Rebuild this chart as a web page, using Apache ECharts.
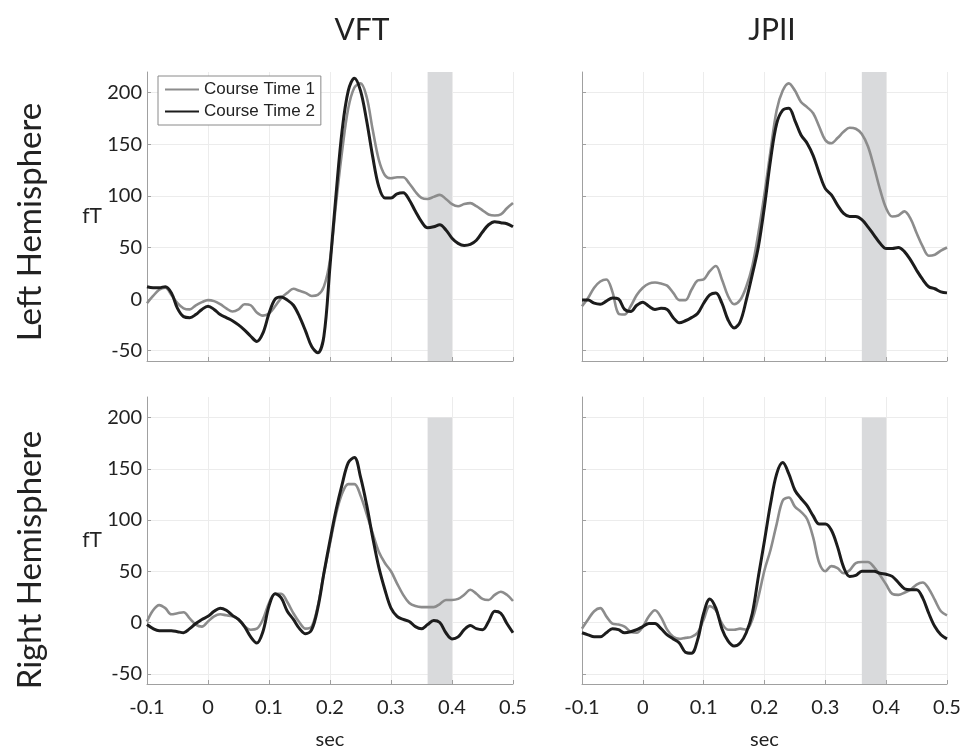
<!DOCTYPE html>
<html>
<head>
<meta charset="utf-8">
<script src="https://cdn.jsdelivr.net/npm/echarts@6/dist/echarts.min.js"></script>
<style>html,body{margin:0;padding:0;background:#fff}#c{width:967px;height:754px}</style>
</head>
<body>
<div id="c"></div>
<script>
// time in seconds
var times = [-0.10,-0.09,-0.08,-0.07,-0.06,-0.05,-0.04,-0.03,-0.02,-0.01,
  0.00,0.01,0.02,0.03,0.04,0.05,0.06,0.07,0.08,0.09,
  0.10,0.11,0.12,0.13,0.14,0.15,0.16,0.17,0.18,0.19,
  0.20,0.21,0.22,0.23,0.24,0.25,0.26,0.27,0.28,0.29,
  0.30,0.31,0.32,0.33,0.34,0.35,0.36,0.37,0.38,0.39,
  0.40,0.41,0.42,0.43,0.44,0.45,0.46,0.47,0.48,0.49,0.50];

var columnTitles = ['VFT', 'JPII'];
var rowTitles = ['Left Hemisphere', 'Right Hemisphere'];
var seriesNames = ['Course Time 1', 'Course Time 2'];
var yTicks = [-50, 0, 50, 100, 150, 200];
var shadeWindow = [0.36, 0.40];

// Left hemisphere, VFT
var leftVFT_t1 = [-4,3,9,11,4,-4,-9,-10,-6,-3,
  -1,-2,-5,-9,-12,-10,-5,-6,-13,-16,
  -14,-7,1,6,10,8,6,3,4,12,
  38,93,144,185,205,209,196,164,135,120,
  117,118,118,112,104,98,97,99,101,97,
  92,90,92,93,90,86,82,81,82,88,93];
var leftVFT_t2 = [12,11,11,12,6,-9,-17,-18,-15,-10,
  -7,-10,-15,-18,-21,-25,-30,-36,-41,-33,
  -14,0,2,-1,-6,-17,-31,-46,-52,-36,
  32,102,164,202,214,202,173,138,109,98,
  98,102,103,96,85,75,69,70,72,67,
  59,54,52,53,57,65,72,75,74,73,70];
// Left hemisphere, JPII
var leftJPII_t1 = [-7,1,11,17,19,7,-14,-15,-7,4,
  11,15,16,15,13,6,-1,-1,9,18,
  19,27,32,19,3,-5,-1,12,32,64,
  102,144,183,202,209,202,191,186,180,167,
  154,151,156,162,166,165,160,148,128,106,
  88,80,81,85,78,64,51,42,43,47,50];
var leftJPII_t2 = [-1,-1,-4,-5,-2,1,0,-10,-12,-6,
  -3,-7,-10,-9,-10,-18,-23,-21,-18,-14,
  -4,4,6,-4,-20,-28,-22,-1,24,51,
  90,135,170,183,185,173,159,151,139,122,
  107,101,91,83,80,80,77,70,62,54,
  49,49,50,46,38,28,19,12,10,7,6];
// Right hemisphere, VFT
var rightVFT_t1 = [1,12,17,14,8,9,10,4,-2,-4,
  1,6,8,7,6,3,-4,-7,-6,3,
  19,28,28,20,9,0,-6,-4,16,48,
  77,106,126,135,135,124,106,87,69,58,
  50,38,27,19,16,15,15,15,18,22,
  22,23,27,32,28,23,22,27,30,27,21];
var rightVFT_t2 = [-2,-6,-8,-8,-8,-9,-10,-6,-1,3,
  6,11,14,12,7,3,-4,-14,-20,-9,
  16,28,24,11,3,-6,-11,-7,14,48,
  80,110,135,156,161,142,115,83,54,32,
  14,6,3,1,-4,-6,-2,2,0,-10,
  -16,-14,-7,-3,-6,-7,1,11,9,-1,-10];
// Right hemisphere, JPII
var rightJPII_t1 = [-6,3,11,14,6,-1,-2,-4,-9,-10,
  -4,6,12,5,-7,-14,-16,-15,-14,-10,
  3,16,12,-1,-7,-7,-6,-7,3,25,
  51,71,96,119,122,113,108,101,83,58,
  50,55,53,48,51,58,59,59,54,46,
  37,28,27,29,32,37,39,33,22,11,7];
var rightJPII_t2 = [-10,-12,-14,-14,-10,-6,-7,-10,-9,-7,
  -4,-1,-1,-6,-12,-16,-20,-29,-30,-17,
  9,23,14,-6,-18,-23,-20,-10,9,45,
  80,116,145,156,145,129,121,114,104,96,
  96,90,74,54,45,46,50,50,50,48,
  47,45,39,33,32,32,24,9,-4,-12,-16];

var panels = [
  [leftVFT_t1, leftVFT_t2],
  [leftJPII_t1, leftJPII_t2],
  [rightVFT_t1, rightVFT_t2],
  [rightJPII_t1, rightJPII_t2]
];

function pairs(vals) {
  return times.map(function (t, i) { return [t, vals[i]]; });
}

var FONT = 'Lato';
var grids = [
  {left: 147, top: 72, width: 366, height: 289},
  {left: 582, top: 72, width: 365, height: 289},
  {left: 147, top: 397, width: 366, height: 287},
  {left: 582, top: 397, width: 365, height: 287}
];

var xAxes = [], yAxes = [], series = [];
for (var p = 0; p < 4; p++) {
  var bottom = p >= 2, left = (p % 2 === 0);
  xAxes.push({
    type: 'value', gridIndex: p, min: -0.1, max: 0.5, interval: 0.1,
    name: bottom ? 'sec' : '', nameLocation: 'middle', nameGap: 46,
    nameTextStyle: {fontFamily: FONT, fontSize: 20, color: '#222'},
    axisLine: {show: true, onZero: false, lineStyle: {color: '#a0a0a0', width: 1}},
    axisTick: {show: true, inside: true, length: 4, lineStyle: {color: '#a0a0a0'}},
    axisLabel: {show: bottom, fontFamily: FONT, fontSize: 20, color: '#222', margin: 14,
      formatter: function (v) { return String(Math.round(v * 10) / 10); }},
    splitLine: {show: true, lineStyle: {color: '#ececec', width: 1}}
  });
  yAxes.push({
    type: 'value', gridIndex: p, min: -60, max: 220,
    name: left ? 'fT' : '', nameLocation: 'middle', nameRotate: 0, nameGap: 45,
    nameTextStyle: {fontFamily: FONT, fontSize: 21, color: '#222'},
    axisLine: {show: true, onZero: false, lineStyle: {color: '#a0a0a0', width: 1}},
    axisTick: {show: true, inside: true, length: 4, customValues: yTicks, lineStyle: {color: '#a0a0a0'}},
    axisLabel: {show: left, customValues: yTicks, fontFamily: FONT, fontSize: 20, color: '#222', margin: 5},
    splitLine: {show: true, lineStyle: {color: '#ececec', width: 1}}
  });
  series.push({
    type: 'line', xAxisIndex: p, yAxisIndex: p, data: [], silent: true, z: 1,
    markArea: {silent: true, itemStyle: {color: '#d9dadc'},
      data: [[{coord: [shadeWindow[0], -60]}, {coord: [shadeWindow[1], bottom ? 200 : 220]}]]}
  });
  series.push({
    name: seriesNames[0], type: 'line', xAxisIndex: p, yAxisIndex: p,
    data: pairs(panels[p][0]), smooth: 0.35, showSymbol: false, symbol: 'none', z: 3,
    lineStyle: {color: '#8c8c8c', width: 2.6}, itemStyle: {color: '#8c8c8c'}
  });
  series.push({
    name: seriesNames[1], type: 'line', xAxisIndex: p, yAxisIndex: p,
    data: pairs(panels[p][1]), smooth: 0.35, showSymbol: false, symbol: 'none', z: 4,
    lineStyle: {color: '#1c1c1c', width: 3}, itemStyle: {color: '#1c1c1c'}
  });
}

var option = {
  animation: false,
  backgroundColor: '#fff',
  title: [
    {text: columnTitles[0], left: 357, top: 10, textAlign: 'center',
      textStyle: {fontFamily: FONT, fontSize: 30, fontWeight: 'normal', color: '#222'}},
    {text: columnTitles[1], left: 767, top: 10, textAlign: 'center',
      textStyle: {fontFamily: FONT, fontSize: 30, fontWeight: 'normal', color: '#222'}}
  ],
  graphic: [
    {type: 'text', x: 30, y: 222, rotation: Math.PI / 2,
      style: {text: rowTitles[0], font: '33px Lato', fill: '#222', textAlign: 'center', textVerticalAlign: 'middle'}},
    {type: 'text', x: 30, y: 560, rotation: Math.PI / 2,
      style: {text: rowTitles[1], font: '33px Lato', fill: '#222', textAlign: 'center', textVerticalAlign: 'middle'}}
  ],
  legend: {
    data: seriesNames, orient: 'vertical', left: 158, top: 76,
    backgroundColor: '#fff', borderColor: '#8a8a8a', borderWidth: 1, borderRadius: 0,
    padding: [5, 6, 5, 6], itemGap: 5, itemWidth: 34, itemHeight: 16,
    itemStyle: {opacity: 0, borderWidth: 0},
    textStyle: {fontFamily: 'Liberation Sans', fontSize: 17, color: '#222'}
  },
  grid: grids,
  xAxis: xAxes,
  yAxis: yAxes,
  series: series
};

var chart = echarts.init(document.getElementById('c'), null, {renderer: 'canvas'});
chart.setOption(option);
</script>
</body>
</html>
